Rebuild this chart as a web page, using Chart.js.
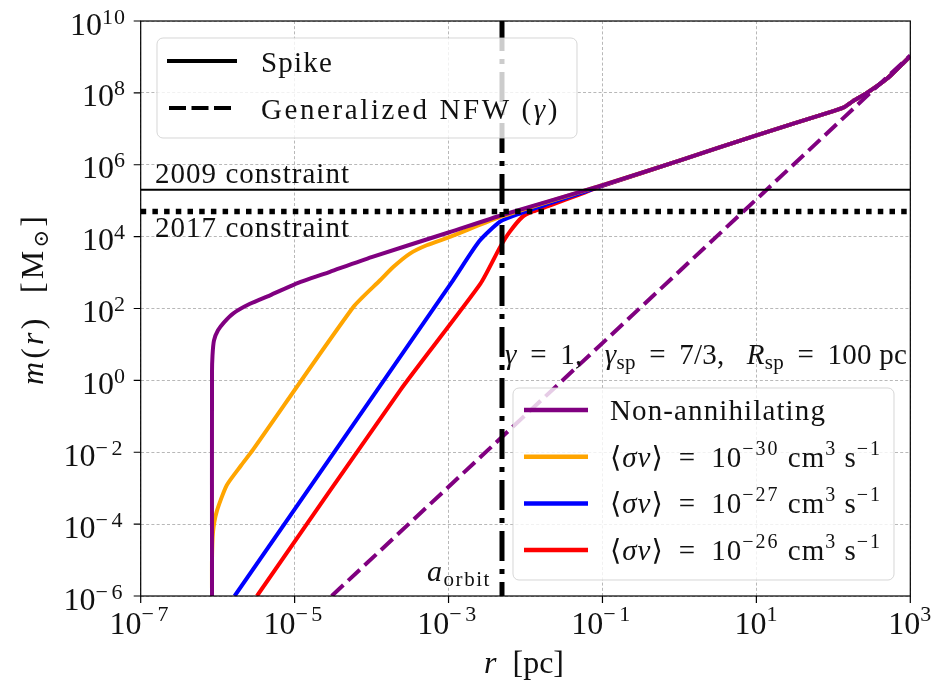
<!DOCTYPE html>
<html>
<head>
<meta charset="utf-8">
<script src="https://cdn.jsdelivr.net/npm/chart.js@4.4.0/dist/chart.umd.min.js"></script>
<style>
  html, body { margin: 0; padding: 0; background: #fff; }
  #wrap { width: 939px; height: 689px; }
</style>
</head>
<body>
<div id="wrap"><canvas id="massChart" width="939" height="689"></canvas></div>
<script>
// --- datos: radio r [pc] y masa encerrada m(r) [Msun] ---
const nonAnnR = [8.44e-7, 8.44e-7, 8.57e-7, 8.96e-7, 1.01e-6, 1.21e-6, 1.6e-6, 2.63e-6, 4.79e-6, 1e-5, 2.88e-5, 1e-4, 1e-3, 5e-3, 0.1, 1, 10, 100, 135, 180, 270, 500, 1000];
const nonAnnM = [1e-6, 1.57, 5, 13, 24.7, 41.3, 73.5, 135, 233, 472, 1050, 2700, 1.3e4, 4e4, 2.7e5, 1.3e6, 6.6e6, 3.1e7, 3.9e7, 5.9e7, 9.8e7, 2.5e8, 1.05e9];

const nfwR = [3.03e-5, 1, 1000];
const nfwM = [1e-6, 1.09e3, 1.1e9];

const sv30R = [8.44e-7, 8.44e-7, 8.7e-7, 9.7e-7, 1.31e-6, 2.0e-6, 2.9e-6, 5.8e-5, 1.29e-4, 1.91e-4, 3.15e-4, 5.2e-4, 1.04e-3, 5e-3, 0.1, 1, 10, 100, 135, 180, 270, 500, 1000];
const sv30M = [1e-6, 1e-5, 6e-5, 2.2e-4, 1.2e-3, 4.2e-3, 1.2e-2, 110, 611, 1430, 3380, 5760, 9800, 3.7e4, 2.7e5, 1.3e6, 6.6e6, 3.1e7, 3.9e7, 5.9e7, 9.8e7, 2.5e8, 1.05e9];

const sv27R = [1.66e-6, 1.15e-3, 2.5e-3, 4.67e-3, 8.5e-3, 0.021, 0.06, 0.1, 1, 10, 100, 135, 180, 270, 500, 1000];
const sv27M = [1e-6, 620, 7400, 2.6e4, 4.4e4, 8.5e4, 1.8e5, 2.63e5, 1.3e6, 6.6e6, 3.1e7, 3.9e7, 5.9e7, 9.8e7, 2.5e8, 1.05e9];

const sv26R = [3.24e-6, 2.34e-4, 2.6e-3, 4.67e-3, 6.3e-3, 9.2e-3, 0.0125, 0.021, 0.05, 0.1, 1, 10, 100, 135, 180, 270, 500, 1000];
const sv26M = [1e-6, 0.52, 490, 5100, 1.4e4, 3.6e4, 5.0e4, 7.4e4, 1.48e5, 2.57e5, 1.3e6, 6.6e6, 3.1e7, 3.9e7, 5.9e7, 9.8e7, 2.5e8, 1.05e9];

const aOrbit = 4.95e-3;
const constraint2009 = 2e5;
const constraint2017 = 5e4;

const xTickValues = [1e-7, 1e-5, 1e-3, 1e-1, 1e1, 1e3];
const xTickExps = ['\u22127', '\u22125', '\u22123', '\u22121', '1', '3'];
const yTickValues = [1e-6, 1e-4, 1e-2, 1e0, 1e2, 1e4, 1e6, 1e8, 1e10];
const yTickExps = ['\u22126', '\u22124', '\u22122', '0', '2', '4', '6', '8', '10'];

const SERIF = '"Liberation Serif", "DejaVu Serif", serif';
const PURPLE = '#800080', ORANGE = '#FFA500', BLUE = '#0000FF', RED = '#FF0000';

const pts = (rs, ms) => rs.map((r, i) => ({ x: r, y: ms[i] }));

// texto con partes de distinto estilo; "target" reparte espacio entre letras hasta ese ancho
function richText(ctx, parts, x, y, align, target) {
    const fontOf = p => (p.it ? 'italic ' : '') + p.size + 'px ' + SERIF;
    ctx.letterSpacing = '0px';
    let w = 0, n = 0;
    parts.forEach(p => {
        ctx.font = fontOf(p);
        p._w = ctx.measureText(p.t).width;
        p._n = [...p.t].length;
        w += p._w + (p.ls || 0) * p._n;
        n += p._n;
    });
    const extra = target ? Math.max(0, (target - w) / n) : 0;
    const total = w + extra * n;
    let cx = align === 'center' ? x - total / 2 : (align === 'right' ? x - total : x);
    parts.forEach(p => {
        const ls = (p.ls || 0) + extra;
        ctx.font = fontOf(p);
        ctx.letterSpacing = ls + 'px';
        ctx.fillText(p.t, cx, y + (p.dy || 0));
        cx += p._w + ls * p._n;
    });
    ctx.letterSpacing = '0px';
}

function roundBox(ctx, x, y, w, h, r) {
    ctx.beginPath();
    ctx.roundRect(x, y, w, h, r);
    ctx.fillStyle = 'rgba(255,255,255,0.8)';
    ctx.fill();
    ctx.strokeStyle = 'rgba(204,204,204,0.8)';
    ctx.lineWidth = 1;
    ctx.stroke();
}

function sigmaParts(exp) {
    return [
        { t: '\u27E8', size: 29 }, { t: '\u03C3v', size: 29, it: true }, { t: '\u27E9 \u2009= \u200910', size: 29 },
        { t: exp, size: 20, dy: -12, ls: 1 }, { t: ' cm', size: 29 }, { t: '3', size: 20, dy: -12 },
        { t: ' s', size: 29 }, { t: '\u22121', size: 20, dy: -12, ls: 1 }
    ];
}

const decorPlugin = {
    id: 'decor',
    afterDraw(chart) {
        const ctx = chart.ctx;
        const a = chart.chartArea;
        const xs = chart.scales.x, ys = chart.scales.y;
        ctx.save();
        ctx.fillStyle = '#111';
        ctx.textBaseline = 'alphabetic';

        // marco y marcas de los ejes
        ctx.strokeStyle = '#000';
        ctx.lineWidth = 1.2;
        ctx.setLineDash([]);
        ctx.strokeRect(a.left, a.top, a.right - a.left, a.bottom - a.top);
        ctx.beginPath();
        xTickValues.forEach(v => {
            const px = xs.getPixelForValue(v);
            ctx.moveTo(px, a.bottom); ctx.lineTo(px, a.bottom + 7);
        });
        yTickValues.forEach(v => {
            const py = ys.getPixelForValue(v);
            ctx.moveTo(a.left - 7, py); ctx.lineTo(a.left, py);
        });
        ctx.stroke();

        // etiquetas de los ejes: 10^n
        xTickValues.forEach((v, i) => {
            const neg = xTickExps[i][0] === '\u2212';
            richText(ctx, [{ t: '10', size: 32 }, { t: xTickExps[i], size: 22, dy: -13, ls: neg ? 3.5 : 1 }],
                xs.getPixelForValue(v), a.bottom + 38, 'center');
        });
        yTickValues.forEach((v, i) => {
            const py = ys.getPixelForValue(v);
            const neg = yTickExps[i][0] === '\u2212';
            richText(ctx, [{ t: '10', size: 32 }, { t: yTickExps[i], size: 22, dy: -11, ls: neg ? 3.5 : 1 }],
                126, py + 13.5, 'right');
        });

        // titulos de los ejes
        richText(ctx, [{ t: 'r', size: 32, it: true }, { t: '  [pc]', size: 32 }], 524, 673, 'center', 77);
        ctx.save();
        ctx.translate(43, 299);
        ctx.rotate(-Math.PI / 2);
        richText(ctx, [
            { t: 'm', size: 32, it: true }, { t: '(', size: 32 }, { t: 'r', size: 32, it: true },
            { t: ')  [M', size: 32 }, { t: '\u2299', size: 21, dy: 5 }, { t: ']', size: 32 }
        ], 0, 0, 'center', 172);
        ctx.restore();

        // anotaciones
        richText(ctx, [{ t: '2009 constraint', size: 29 }], 155, 183, 'left', 195);
        richText(ctx, [{ t: '2017 constraint', size: 29 }], 155, 237, 'left', 195);
        richText(ctx, [
            { t: '\u03B3', size: 29, it: true }, { t: ' \u2009= \u20091,   ', size: 29 },
            { t: '\u03B3', size: 29, it: true }, { t: 'sp', size: 21, dy: 5 }, { t: ' \u2009= \u20097/3,   ', size: 29 },
            { t: 'R', size: 29, it: true }, { t: 'sp', size: 21, dy: 5 }, { t: ' \u2009= \u2009100 pc', size: 29 }
        ], 505, 364, 'left', 402);
        richText(ctx, [{ t: 'a', size: 30, it: true }, { t: 'orbit', size: 21, dy: 5 }], 427, 581, 'left', 64);

        // leyenda de perfiles
        roundBox(ctx, 157, 38, 420, 100, 6);
        ctx.fillStyle = '#111';
        ctx.strokeStyle = '#000';
        ctx.lineWidth = 4;
        ctx.lineCap = 'butt';
        ctx.beginPath(); ctx.moveTo(167, 61); ctx.lineTo(237, 61); ctx.stroke();
        ctx.setLineDash([17, 5.5]);
        ctx.beginPath(); ctx.moveTo(169, 108); ctx.lineTo(232, 108); ctx.stroke();
        ctx.setLineDash([]);
        richText(ctx, [{ t: 'Spike', size: 29 }], 261, 72, 'left', 72);
        richText(ctx, [{ t: 'Generalized NFW (', size: 29 }, { t: '\u03B3', size: 29, it: true }, { t: ')', size: 29 }], 261, 119, 'left', 299);

        // leyenda de secciones eficaces
        roundBox(ctx, 513, 388, 381, 192, 6);
        const entries = [
            { c: PURPLE, parts: [{ t: 'Non-annihilating', size: 29 }], w: 216 },
            { c: ORANGE, parts: sigmaParts('\u221230'), w: 272 },
            { c: BLUE, parts: sigmaParts('\u221227'), w: 272 },
            { c: RED, parts: sigmaParts('\u221226'), w: 272 }
        ];
        entries.forEach((e, i) => {
            const y = 410 + i * 46.7;
            ctx.strokeStyle = e.c;
            ctx.lineWidth = 4.5;
            ctx.beginPath(); ctx.moveTo(524, y); ctx.lineTo(588, y); ctx.stroke();
            ctx.fillStyle = '#111';
            richText(ctx, e.parts, 610, y + 10, 'left', e.w);
        });
        ctx.restore();
    }
};

const lineDs = (label, data, color, width, dash, extra) => Object.assign({
    label, data, borderColor: color, borderWidth: width, borderDash: dash || [],
    pointRadius: 0, fill: false, showLine: true, tension: 0.2, borderCapStyle: 'butt'
}, extra || {});

new Chart(document.getElementById('massChart'), {
    type: 'line',
    data: {
        datasets: [
            lineDs('a_orbit', [{ x: aOrbit, y: 1e10 }, { x: aOrbit, y: 1e-6 }], '#000', 5, [30, 8, 5, 8], { tension: 0 }),
            lineDs('2009', [{ x: 1e-7, y: constraint2009 }, { x: 1e3, y: constraint2009 }], '#000', 2, [], { tension: 0 }),
            lineDs('2017', [{ x: 1e-7, y: constraint2017 }, { x: 1e3, y: constraint2017 }], '#000', 5.5, [5.5, 6.2], { tension: 0 }),
            lineDs('Non-annihilating', pts(nonAnnR, nonAnnM), PURPLE, 4),
            lineDs('NFW', pts(nfwR, nfwM), PURPLE, 4, [16, 6.5], { tension: 0 }),
            lineDs('1e-30', pts(sv30R, sv30M), ORANGE, 4),
            lineDs('1e-27', pts(sv27R, sv27M), BLUE, 4),
            lineDs('1e-26', pts(sv26R, sv26M), RED, 4)
        ]
    },
    options: {
        responsive: false,
        animation: false,
        devicePixelRatio: 1,
        layout: { padding: { top: 21, right: 28.7, left: 0, bottom: 0 } },
        plugins: { legend: { display: false }, tooltip: { enabled: false } },
        scales: {
            x: {
                type: 'logarithmic', min: 1e-7, max: 1e3,
                afterBuildTicks: s => { s.ticks = xTickValues.map(v => ({ value: v })); },
                afterFit: s => { s.height = 93; },
                ticks: { display: false },
                grid: { color: '#b8b8b8', lineWidth: 1, drawTicks: false },
                border: { display: false, dash: [3, 2.2] }
            },
            y: {
                type: 'logarithmic', min: 1e-6, max: 1e10,
                afterBuildTicks: s => { s.ticks = yTickValues.map(v => ({ value: v })); },
                afterFit: s => { s.width = 140.7; },
                ticks: { display: false },
                grid: { color: '#b8b8b8', lineWidth: 1, drawTicks: false },
                border: { display: false, dash: [3, 2.2] }
            }
        }
    },
    plugins: [decorPlugin]
});
</script>
</body>
</html>
